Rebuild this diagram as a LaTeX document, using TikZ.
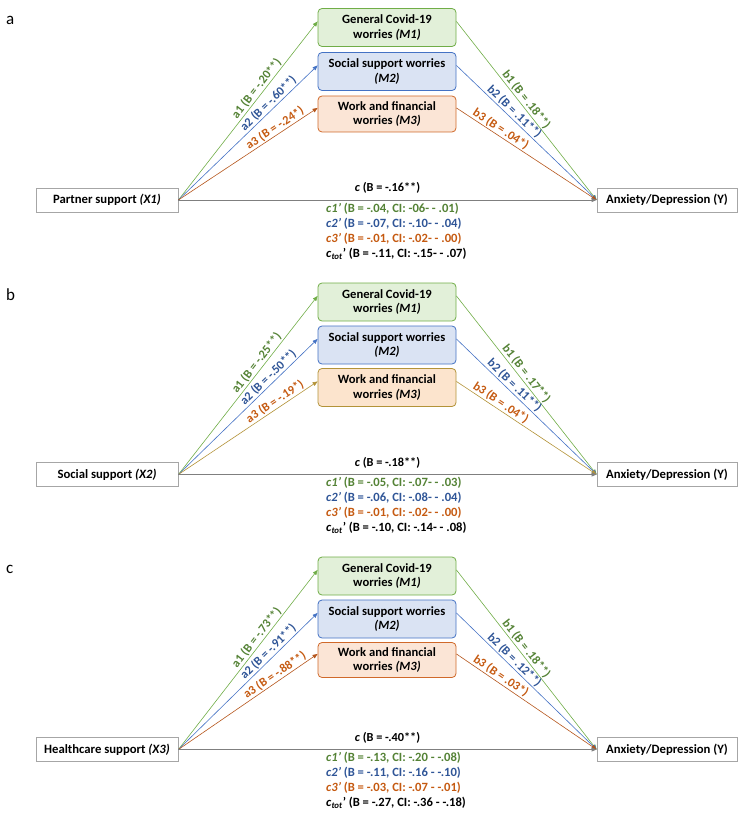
\documentclass[tikz,border=0pt]{standalone}
\usepackage{fontspec}
\setmainfont{Carlito}
\usetikzlibrary{arrows.meta}
\definecolor{tgreen}{HTML}{548235}
\definecolor{tblue}{HTML}{2F5597}
\definecolor{tbrown}{HTML}{C55A11}
\definecolor{lgreen}{HTML}{70AD47}
\definecolor{lblue}{HTML}{4472C4}
\definecolor{lbrown}{HTML}{B5561C}
\definecolor{lolive}{HTML}{B39338}
\definecolor{fgreen}{HTML}{E2F0D9}
\definecolor{fblue}{HTML}{DAE3F3}
\definecolor{forange}{HTML}{FBE5D6}
\definecolor{ftan}{HTML}{FCE4CD}
\definecolor{borange}{HTML}{D0692A}
\definecolor{boxgray}{HTML}{A6A6A6}
\definecolor{linegray}{HTML}{7F7F7F}
\tikzset{
  letter/.style={font=\fontsize{17}{20}\selectfont, anchor=base west, inner sep=0pt},
  xbox/.style={font=\bfseries\fontsize{12.7}{15}\selectfont, draw=boxgray, line width=0.8pt, minimum width=142pt, minimum height=24pt, inner sep=0pt},
  ybox/.style={xbox, minimum width=140pt},
  mbox/.style={font=\bfseries\fontsize{12.6}{14.5}\selectfont, rounded corners=4pt, line width=0.8pt, minimum width=138pt, minimum height=38pt, align=center, inner sep=0pt},
  arr/.style={line width=0.6pt, -{Triangle[length=5pt,width=4pt]}},
  carr/.style={line width=0.8pt, draw=linegray, -{Triangle[length=5pt,width=4pt]}},
  lab/.style={font=\bfseries\fontsize{12.3}{14.5}\selectfont, sloped, above, inner sep=1pt},
  clab/.style={font=\bfseries\fontsize{12.3}{14.5}\selectfont, above, inner sep=0pt, yshift=6pt, text=black},
  ltxt/.style={font=\bfseries\fontsize{12.6}{14.5}\selectfont, anchor=west, inner sep=0pt}
}
\begin{document}
\begin{tikzpicture}[x=1pt,y=-1pt]
\useasboundingbox (0,0) rectangle (738,813);
% ---------- panel a ----------
\node[letter] (La) at (6,25) {a};
\node[xbox] (Xa) at (107,200) {Partner support \textit{(X1)}};
\node[ybox] (Ya) at (667,200) {Anxiety/Depression (Y)};
\node[mbox, draw=lgreen, fill=fgreen] (M1a) at (387,27.5) {General Covid-19\\worries \textit{(M1)}};
\node[mbox, draw=lblue, fill=fblue] (M2a) at (387,71.5) {Social support worries\\\textit{(M2)}};
\node[mbox, draw=borange, fill=forange, minimum height=36pt] (M3a) at (387,114) {Work and financial\\worries \textit{(M3)}};
\draw[arr, lgreen] (Xa.east) -- node[lab, pos=0.6, text=tgreen] (a1a) {a1 (B = -.20**)} (M1a.175);
\draw[arr, lblue] (Xa.east) -- node[lab, pos=0.68, text=tblue] (a2a) {a2 (B = -.60**)} (M2a.175);
\draw[arr, lbrown] (Xa.east) -- node[lab, pos=0.72, text=tbrown] (a3a) {a3 (B = -.24*)} (M3a.175);
\draw[arr, lgreen] (M1a.5) -- node[lab, pos=0.46, text=tgreen] (b1a) {b1 (B = .18**)} (Ya.west);
\draw[arr, lblue] (M2a.5) -- node[lab, pos=0.38, text=tblue] (b2a) {b2 (B = .11**)} (Ya.west);
\draw[arr, lbrown] (M3a.5) -- node[lab, pos=0.29, text=tbrown] (b3a) {b3 (B = .04*)} (Ya.west);
\draw[carr] (Xa.east) -- node[clab] (ca) {\textit{c} (B = -.16**)} (Ya.west);
\node[ltxt, text=tgreen] (c1a) at (326,208.5) {\textit{c1’} (B = -.04, CI: -06- - .01)};
\node[ltxt, text=tblue] (c2a) at (326,223.5) {\textit{c2’} (B = -.07, CI: -.10- - .04)};
\node[ltxt, text=tbrown] (c3a) at (326,238.5) {\textit{c3’} (B = -.01, CI: -.02- - .00)};
\node[ltxt, text=black] (cta) at (326,253.5) {\textit{c}\textsubscript{\textit{tot}}’ (B = -.11, CI: -.15- - .07)};
% ---------- panel b ----------
\node[letter] (Lb) at (6,300) {b};
\node[xbox] (Xb) at (107,474.5) {Social support \textit{(X2)}};
\node[ybox] (Yb) at (667,474.5) {Anxiety/Depression (Y)};
\node[mbox, draw=lgreen, fill=fgreen] (M1b) at (387,302) {General Covid-19\\worries \textit{(M1)}};
\node[mbox, draw=lblue, fill=fblue] (M2b) at (387,345) {Social support worries\\\textit{(M2)}};
\node[mbox, draw=lolive, fill=ftan] (M3b) at (387,387.5) {Work and financial\\worries \textit{(M3)}};
\draw[arr, lgreen] (Xb.east) -- node[lab, pos=0.6, text=tgreen] (a1b) {a1 (B = -.25**)} (M1b.175);
\draw[arr, lblue] (Xb.east) -- node[lab, pos=0.68, text=tblue] (a2b) {a2 (B = -.50**)} (M2b.175);
\draw[arr, lolive] (Xb.east) -- node[lab, pos=0.72, text=tbrown] (a3b) {a3 (B = -.19*)} (M3b.175);
\draw[arr, lgreen] (M1b.5) -- node[lab, pos=0.46, text=tgreen] (b1b) {b1 (B = .17**)} (Yb.west);
\draw[arr, lblue] (M2b.5) -- node[lab, pos=0.38, text=tblue] (b2b) {b2 (B = .11**)} (Yb.west);
\draw[arr, lolive] (M3b.5) -- node[lab, pos=0.29, text=tbrown] (b3b) {b3 (B = .04*)} (Yb.west);
\draw[carr] (Xb.east) -- node[clab] (cb) {\textit{c} (B = -.18**)} (Yb.west);
\node[ltxt, text=tgreen] (c1b) at (326,483) {\textit{c1’} (B = -.05, CI: -.07- - .03)};
\node[ltxt, text=tblue] (c2b) at (326,498) {\textit{c2’} (B = -.06, CI: -.08- - .04)};
\node[ltxt, text=tbrown] (c3b) at (326,513) {\textit{c3’} (B = -.01, CI: -.02- - .00)};
\node[ltxt, text=black] (ctb) at (326,528) {\textit{c}\textsubscript{\textit{tot}}’ (B = -.10, CI: -.14- - .08)};
% ---------- panel c ----------
\node[letter] (Lc) at (6,573) {c};
\node[xbox] (Xc) at (107,749.5) {Healthcare support \textit{(X3)}};
\node[ybox] (Yc) at (667,749.5) {Anxiety/Depression (Y)};
\node[mbox, draw=lgreen, fill=fgreen] (M1c) at (387,576) {General Covid-19\\worries \textit{(M1)}};
\node[mbox, draw=lblue, fill=fblue] (M2c) at (387,619) {Social support worries\\\textit{(M2)}};
\node[mbox, draw=borange, fill=forange, minimum height=35pt] (M3c) at (387,660) {Work and financial\\worries \textit{(M3)}};
\draw[arr, lgreen] (Xc.east) -- node[lab, pos=0.6, text=tgreen] (a1c) {a1 (B = -.73**)} (M1c.175);
\draw[arr, lblue] (Xc.east) -- node[lab, pos=0.68, text=tblue] (a2c) {a2 (B = -.91**)} (M2c.175);
\draw[arr, lbrown] (Xc.east) -- node[lab, pos=0.72, text=tbrown] (a3c) {a3 (B = -.88**)} (M3c.175);
\draw[arr, lgreen] (M1c.5) -- node[lab, pos=0.46, text=tgreen] (b1c) {b1 (B = .18**)} (Yc.west);
\draw[arr, lblue] (M2c.5) -- node[lab, pos=0.38, text=tblue] (b2c) {b2 (B = .12**)} (Yc.west);
\draw[arr, lbrown] (M3c.5) -- node[lab, pos=0.29, text=tbrown] (b3c) {b3 (B = .03*)} (Yc.west);
\draw[carr] (Xc.east) -- node[clab] (cc) {\textit{c} (B = -.40**)} (Yc.west);
\node[ltxt, text=tgreen] (c1c) at (326,758) {\textit{c1’} (B = -.13, CI: -.20 - -.08)};
\node[ltxt, text=tblue] (c2c) at (326,773) {\textit{c2’} (B = -.11, CI: -.16 - -.10)};
\node[ltxt, text=tbrown] (c3c) at (326,788) {\textit{c3’} (B = -.03, CI: -.07 - -.01)};
\node[ltxt, text=black] (ctc) at (326,803) {\textit{c}\textsubscript{\textit{tot}}’ (B = -.27, CI: -.36 - -.18)};
\end{tikzpicture}
\end{document}
